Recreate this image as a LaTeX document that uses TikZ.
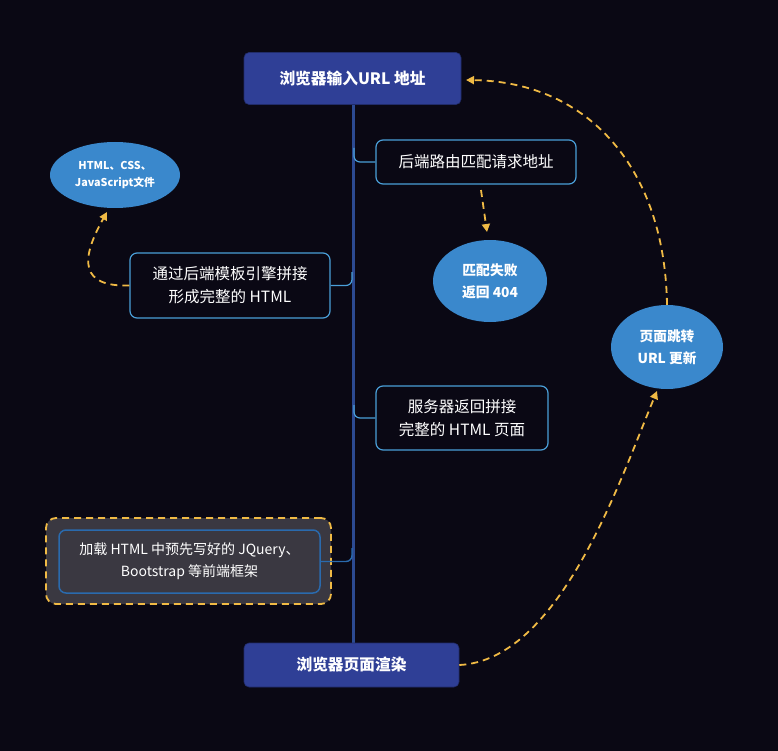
\documentclass[tikz,border=0pt]{standalone}
\usepackage{fontspec}
\setmainfont{Noto Sans CJK SC}
\usetikzlibrary{arrows.meta,shapes.geometric}
\definecolor{bg}{HTML}{0A0814}
\definecolor{mainblue}{HTML}{2F3F96}
\definecolor{trunk}{HTML}{2C4A92}
\definecolor{lblue}{HTML}{4A9FD8}
\definecolor{dblue}{HTML}{2A6AAD}
\definecolor{ell}{HTML}{3A88CC}
\definecolor{orng}{HTML}{F0BA45}
\definecolor{gbox}{HTML}{3A3841}
\tikzset{
  mainbox/.style={draw=mainblue!70!black,line width=0.6pt,fill=mainblue,rounded corners=5pt,text=white,font=\bfseries\fontsize{15.7}{18}\selectfont,minimum width=217pt,minimum height=52pt,inner sep=0pt},
  subbox/.style={draw=lblue,line width=1.2pt,fill=bg,rounded corners=7pt,text=white,font=\fontsize{15.5}{23}\selectfont,align=center,inner sep=0pt},
  ellnode/.style={ellipse,fill=ell,text=white,font=\bfseries\fontsize{11.5}{18}\selectfont,align=center,inner sep=0pt},
  branch/.style={lblue,line width=1.2pt,rounded corners=6pt},
  darr/.style={orng,line width=1.8pt,dash pattern=on 7pt off 5pt,-{Triangle[length=8pt,width=8pt]}},
}
\begin{document}
\begin{tikzpicture}[x=1pt,y=-1pt]
\useasboundingbox (0,0) rectangle (778,751);
\fill[bg] (0,0) rectangle (778,751);
% trunk
\draw[trunk,line width=3pt] (353,104) -- (353,644);
% main boxes
\node[mainbox] (top) at (352.5,78.5) {浏览器输入URL 地址};
\node[mainbox,minimum width=215pt,minimum height=44pt] (bot) at (351.5,665) {浏览器页面渲染};
% sub boxes
\node[subbox,minimum width=200pt,minimum height=44pt] (route) at (476,162) {后端路由匹配请求地址};
\node[subbox,minimum width=200pt,minimum height=65pt] (tmpl) at (230,285.5) {通过后端模板引擎拼接\\形成完整的 HTML};
\node[subbox,minimum width=172pt,minimum height=64pt] (serv) at (462,418) {服务器返回拼接\\完整的 HTML 页面};
% dashed group box
\node[draw=orng,line width=1.8pt,dash pattern=on 7pt off 5pt,fill=gbox,rounded corners=10pt,minimum width=285pt,minimum height=86pt,inner sep=0pt] (grp) at (188.5,561) {};
\node[draw=dblue,line width=1.5pt,fill=gbox,rounded corners=7pt,text=white,font=\fontsize{14}{22}\selectfont,align=center,minimum width=261pt,minimum height=63pt,inner sep=0pt] (load) at (189.5,561.5) {加载 HTML 中预先写好的 JQuery、\\Bootstrap 等前端框架};
% ellipses
\node[ellnode,minimum width=130pt,minimum height=66pt,font=\bfseries\fontsize{10.8}{17}\selectfont] (files) at (115,175) {HTML、CSS、\\JavaScript文件};
\node[ellnode,minimum width=114pt,minimum height=82pt,font=\bfseries\fontsize{13.8}{22}\selectfont] (fail) at (490,281) {匹配失败\\返回 404};
\node[ellnode,minimum width=112pt,minimum height=84pt,font=\bfseries\fontsize{13.7}{22}\selectfont] (jump) at (667,347) {页面跳转\\URL 更新};
% branch connectors
\draw[branch] (354,148) |- (route.west);
\draw[branch] (tmpl.east) -| (352,272);
\draw[branch] (354,405) |- (serv.west);
\draw[dblue,line width=1.4pt,rounded corners=6pt] (load.east) -| (352,548);
% dashed arrows
\draw[darr] (tmpl.west) .. controls (80,287) and (80,260) .. (107,212);
\draw[darr] (481,190) -- (487,232);
\draw[darr] (jump.north) .. controls (665,170) and (590,82) .. (466,80);
\draw[darr] (bot.east) .. controls (560,660) and (620,480) .. (657,391);
\end{tikzpicture}
\end{document}
